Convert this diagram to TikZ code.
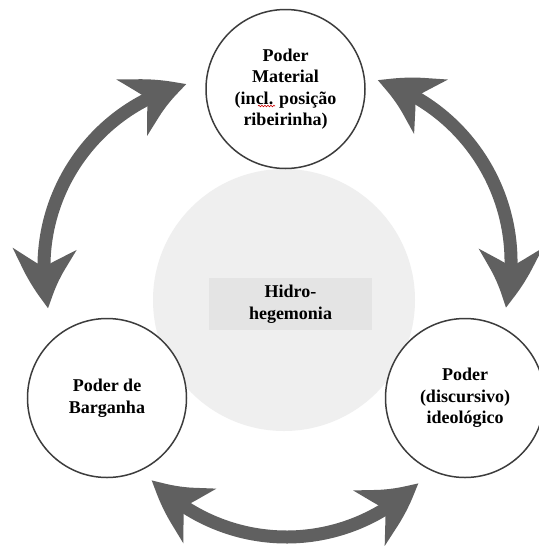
\documentclass[tikz,border=0pt]{standalone}
\usepackage{fontspec}
\setmainfont{Liberation Serif}
\usetikzlibrary{arrows.meta,bending,decorations.pathmorphing}
\definecolor{arrowgray}{HTML}{606060}
\definecolor{ringgray}{HTML}{3C3C3C}
\definecolor{hubgray}{HTML}{EFEFEF}
\definecolor{labelgray}{HTML}{E4E4E4}
\begin{document}
\begin{tikzpicture}[x=1pt,y=1pt,
  labeltext/.style={align=center, font=\fontsize{18}{21.5}\selectfont\bfseries},
  powernode/.style={circle, draw=ringgray, line width=1.5pt, fill=white,
    minimum size=159pt, inner sep=0pt, labeltext},
  bigarrow/.style={draw=arrowgray, line width=13pt,
    >={Stealth[length=60pt,width=62pt,inset=18pt,bend]}, <->}
]
\useasboundingbox (0,0) rectangle (539,-550);
\fill[white] (0,0) rectangle (539,-550);

% central hub
\node[circle, fill=hubgray, minimum size=262pt, inner sep=0pt] (hub) at (284,-300) {};
\node[fill=labelgray, minimum width=163pt, minimum height=52pt, inner sep=0pt, labeltext] (hublabel) at (290.5,-304) {Hidro-\\hegemonia};

% three powers
\node[powernode] (mat) at (285.5,-89) {Poder\\Material\\(incl. posição\\ribeirinha)};
\node[powernode] (barg) at (107,-398) {Poder de\\Barganha};
\node[powernode] (ideo) at (465,-398) {Poder\\(discursivo)\\ideológico};

% spell-check squiggle under "incl."
\draw[red!80!black, line width=0.6pt, decorate,
  decoration={snake, amplitude=0.8pt, segment length=3pt}] (258,-106) -- (275,-106);

% curved double arrows
\coordinate (cL) at (232,-267);
\coordinate (cR) at (321,-262);
\coordinate (cB) at (286.5,-350);
\path (cL) ++(192.7:188) coordinate (lA);
\path (cR) ++(72.7:190) coordinate (rA);
\path (cB) ++(-136:187) coordinate (bA);
\draw[bigarrow] (lA) arc[start angle=192.7, end angle=104, radius=188];
\draw[bigarrow] (rA) arc[start angle=72.7, end angle=-13.9, radius=190];
\draw[bigarrow] (bA) arc[start angle=-136, end angle=-45.3, radius=187];
\end{tikzpicture}
\end{document}
